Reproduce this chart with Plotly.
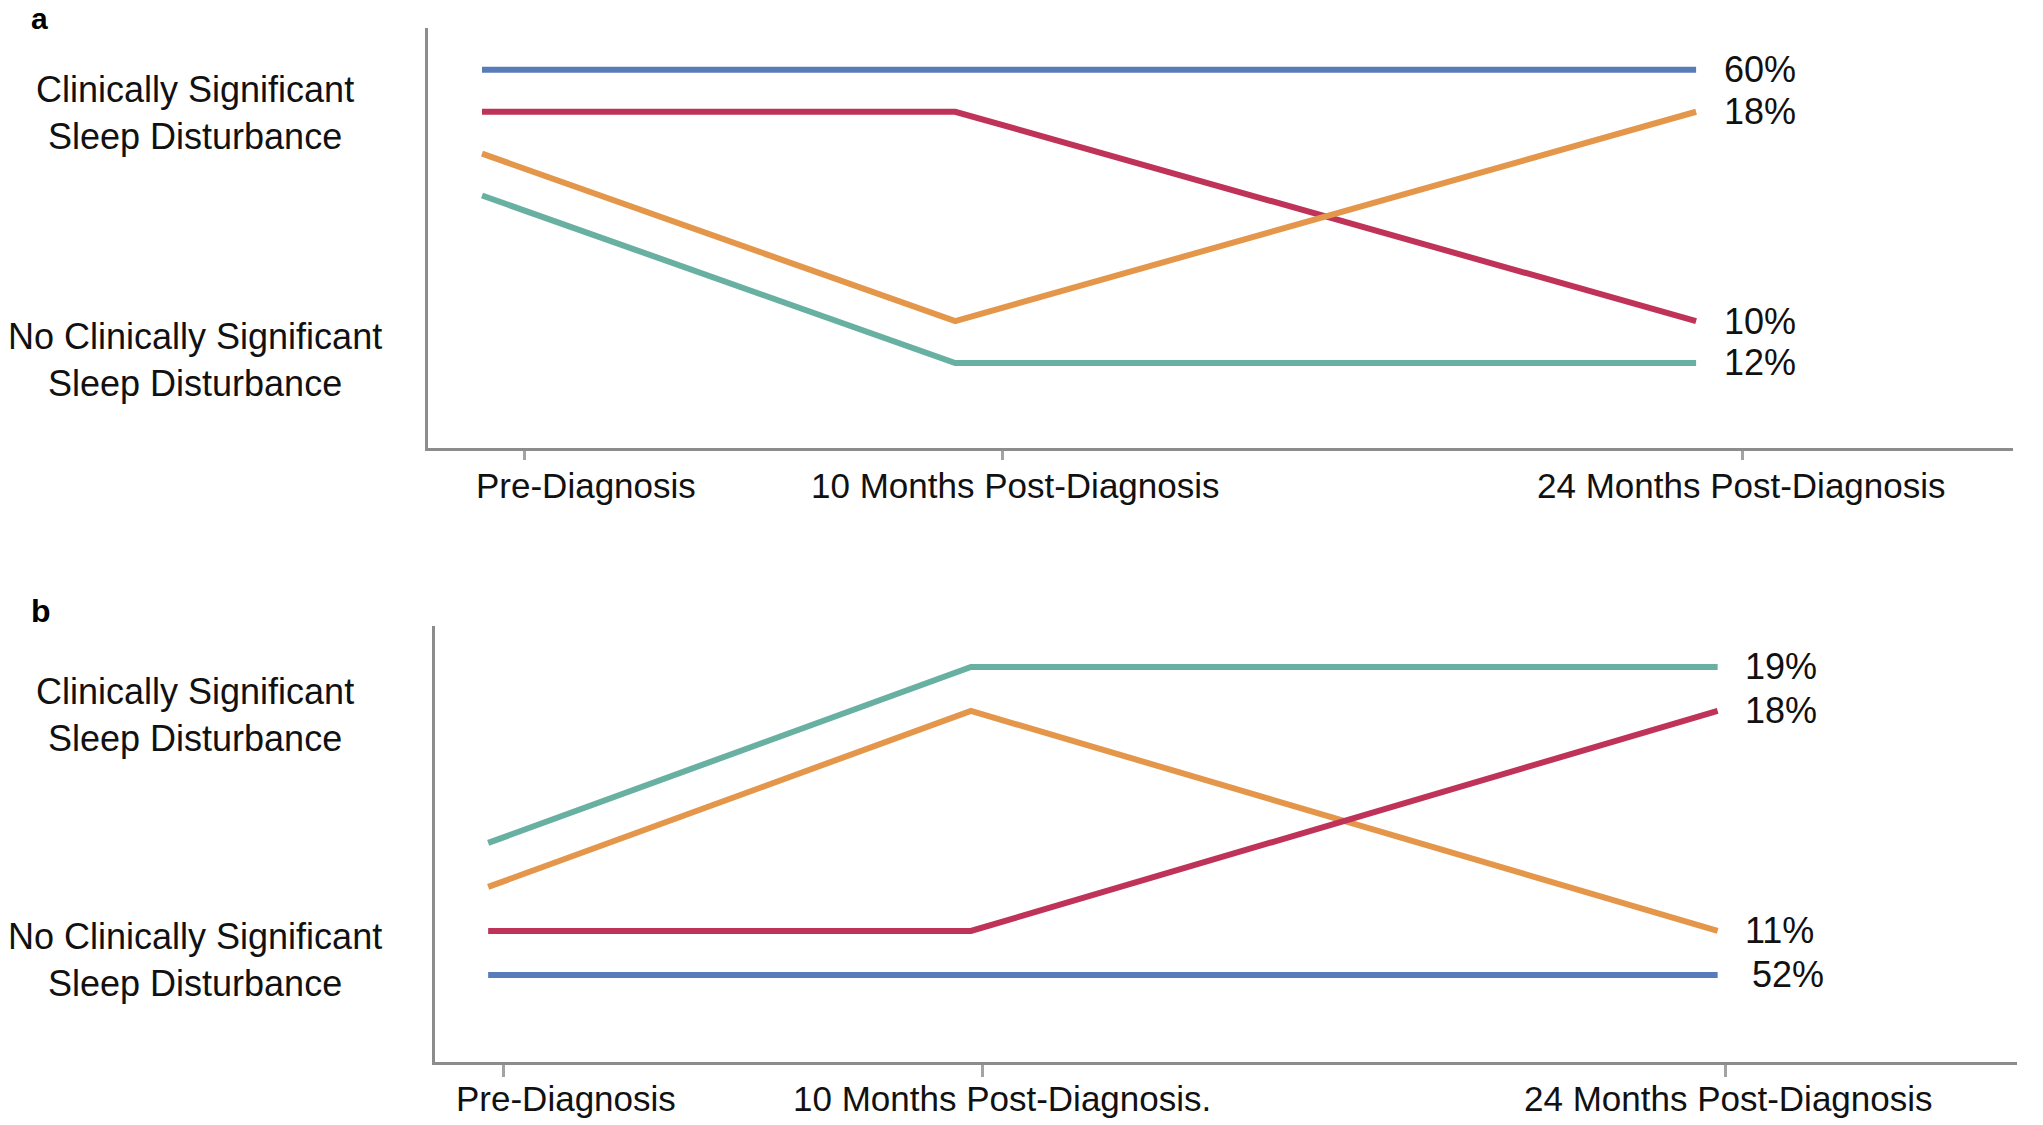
import plotly.graph_objects as go

# ---------------- data ----------------
time_labels_a = ["Pre-Diagnosis", "10 Months Post-Diagnosis", "24 Months Post-Diagnosis"]
time_labels_b = ["Pre-Diagnosis", "10 Months Post-Diagnosis.", "24 Months Post-Diagnosis"]
tick_pos = [0, 1, 2.55]
label_pos_a = [0.13, 1.029, 2.546]
label_pos_b = [0.129, 1.040, 2.557]
line_x_a = [-0.088, 0.902, 2.452]
line_x_b = [-0.033, 0.975, 2.534]

state_labels = ["Clinically Significant<br>Sleep Disturbance",
                "No Clinically Significant<br>Sleep Disturbance"]
state_pos_a = [5.96, 0.07]
state_pos_b = [5.9, 0.34]

# panel a trajectories (vertical position: higher = clinically significant)
a_names = ["blue", "red", "orange", "teal"]
a_values = {
    "blue":   [7, 7, 7],
    "red":    [6, 6, 1],
    "orange": [5, 1, 6],
    "teal":   [4, 0, 0],
}
a_pct = {"blue": "60%", "orange": "18%", "red": "10%", "teal": "12%"}

# panel b trajectories
b_names = ["teal", "orange", "red", "blue"]
b_values = {
    "teal":   [3, 7, 7],
    "orange": [2, 6, 1],
    "red":    [1, 1, 6],
    "blue":   [0, 0, 0],
}
b_pct = {"teal": "19%", "red": "18%", "orange": "11%", "blue": "52%"}

colors = {"blue": "#587BB9", "red": "#BF3358", "orange": "#E4974A", "teal": "#68B0A1"}

FONT = "Liberation Sans, Arial, Helvetica, sans-serif"
TXT = "#111111"
AXC = "#8C8C8C"
TICKC = "#A3A3A3"

fig = go.Figure()

for name in a_names:
    fig.add_trace(go.Scatter(x=line_x_a, y=a_values[name], mode="lines",
                             line=dict(color=colors[name], width=6),
                             xaxis="x", yaxis="y", hoverinfo="skip"))
for name in b_names:
    fig.add_trace(go.Scatter(x=line_x_b, y=b_values[name], mode="lines",
                             line=dict(color=colors[name], width=6),
                             xaxis="x2", yaxis="y2", hoverinfo="skip"))

annotations = []
for name in a_names:
    annotations.append(dict(x=line_x_a[-1], y=a_values[name][-1], xref="x", yref="y",
                            text=a_pct[name], showarrow=False, xanchor="left",
                            yanchor="middle", xshift=26,
                            font=dict(family=FONT, size=36, color=TXT)))
for name in b_names:
    annotations.append(dict(x=line_x_b[-1], y=b_values[name][-1], xref="x2", yref="y2",
                            text=b_pct[name], showarrow=False, xanchor="left",
                            yanchor="middle", xshift=32 if name == "blue" else 25,
                            font=dict(family=FONT, size=36, color=TXT)))

for lab, yv in zip(state_labels, state_pos_a):
    annotations.append(dict(x=195 / 2043, y=yv, xref="paper", yref="y", text=lab,
                            showarrow=False, xanchor="center", yanchor="middle",
                            align="center", font=dict(family=FONT, size=36, color=TXT)))
for lab, yv in zip(state_labels, state_pos_b):
    annotations.append(dict(x=195 / 2043, y=yv, xref="paper", yref="y2", text=lab,
                            showarrow=False, xanchor="center", yanchor="middle",
                            align="center", font=dict(family=FONT, size=36, color=TXT)))

# time-point labels (placed like the original text boxes)
for lab, xv in zip(time_labels_a, label_pos_a):
    annotations.append(dict(x=xv, y=1 - 486 / 1125, xref="x", yref="paper", text=lab,
                            showarrow=False, xanchor="center", yanchor="middle",
                            font=dict(family=FONT, size=35, color=TXT)))
for lab, xv in zip(time_labels_b, label_pos_b):
    annotations.append(dict(x=xv, y=1 - 1098 / 1125, xref="x2", yref="paper", text=lab,
                            showarrow=False, xanchor="center", yanchor="middle",
                            font=dict(family=FONT, size=35, color=TXT)))

annotations.append(dict(x=29 / 2043, y=1, xref="paper", yref="paper",
                        text="<b>a</b>", showarrow=False, xanchor="left", yanchor="top",
                        font=dict(family=FONT, size=30, color="#000000")))
annotations.append(dict(x=29 / 2043, y=1 - 611 / 1125, xref="paper", yref="paper",
                        text="<b>b</b>", showarrow=False, xanchor="left", yanchor="middle",
                        font=dict(family=FONT, size=32, color="#000000")))

xbase = dict(showgrid=False, zeroline=False, showline=True, linecolor=AXC, linewidth=3,
             ticks="outside", ticklen=9, tickwidth=3, tickcolor=TICKC,
             tickvals=tick_pos, showticklabels=False, fixedrange=True, automargin=False)
ybase = dict(showgrid=False, zeroline=False, showline=True, linecolor=AXC, linewidth=3,
             showticklabels=False, ticks="", fixedrange=True, automargin=False)
xover = dict(showgrid=False, zeroline=False, showline=False, ticks="inside", tickwidth=3,
             tickcolor=TICKC, tickvals=tick_pos, showticklabels=False, fixedrange=True,
             automargin=False)

fig.update_layout(
    width=2043, height=1125,
    margin=dict(l=0, r=0, t=0, b=0, autoexpand=False),
    paper_bgcolor="white", plot_bgcolor="white",
    showlegend=False,
    xaxis=dict(xbase, domain=[428 / 2043, 2013 / 2043], range=[-0.201, 3.115], anchor="y"),
    yaxis=dict(ybase, domain=[1 - 448 / 1125, 1 - 28 / 1125], range=[-2.03, 8.0],
               anchor="x"),
    xaxis2=dict(xbase, domain=[435 / 2043, 2017 / 2043], range=[-0.144, 3.159],
                anchor="y2", ticklen=12),
    yaxis2=dict(ybase, domain=[1 - 1062 / 1125, 1 - 626 / 1125], range=[-1.98, 7.93],
                anchor="x2"),
    xaxis3=dict(xover, overlaying="x", anchor="y", range=[-0.201, 3.115], ticklen=9),
    xaxis4=dict(xover, overlaying="x2", anchor="y2", range=[-0.144, 3.159], ticklen=5),
    annotations=annotations,
)

fig.write_html("out.html", config={"displayModeBar": False},
               post_script="document.body.style.margin='0px';")
